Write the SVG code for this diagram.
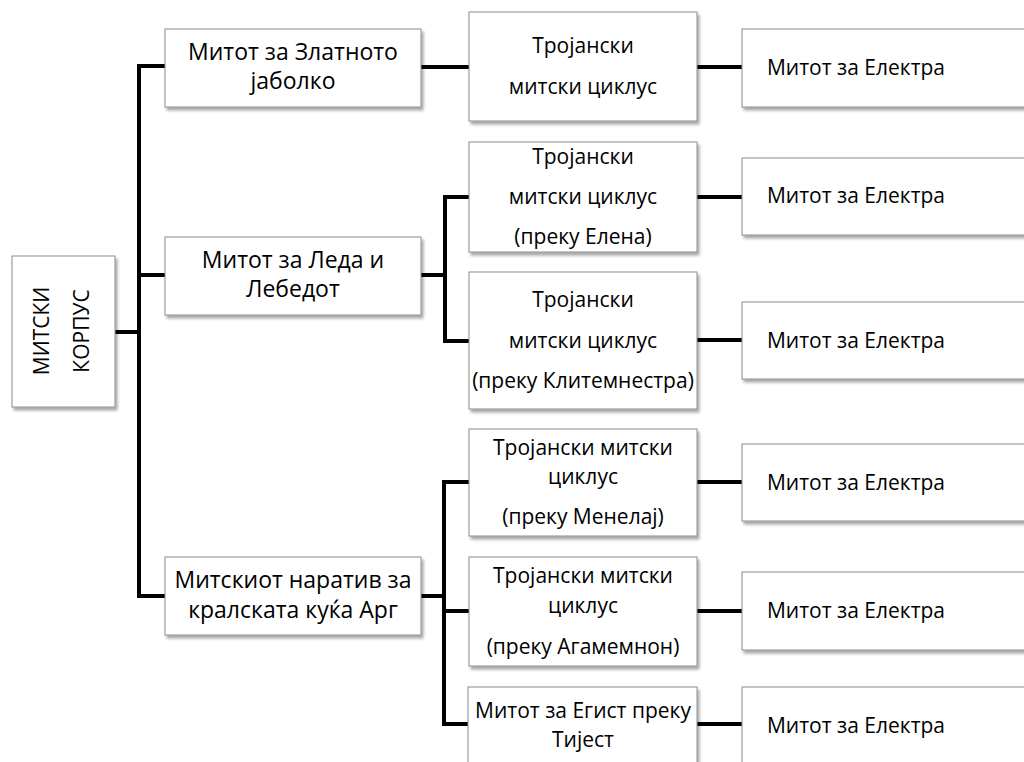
<svg xmlns="http://www.w3.org/2000/svg" width="1024" height="762" viewBox="0 0 1024 762">
<defs>
<filter id="sh" x="-10%" y="-10%" width="130%" height="140%">
<feDropShadow dx="2" dy="3" stdDeviation="1.5" flood-color="#000" flood-opacity="0.35"/>
</filter>
</defs>
<style>
.box{fill:#fff;stroke:#8c8c8c;stroke-width:1;filter:url(#sh)}
.t{font-family:"Open Sans","Noto Sans","Liberation Sans",sans-serif;font-size:21px;fill:#000;text-anchor:middle}
.l{font-size:23px}
.c{fill:none;stroke:#000;stroke-width:4;stroke-linejoin:miter;stroke-linecap:butt}
</style>
<rect width="1024" height="762" fill="#fff"/>
<g id="connectors">
<path class="c" d="M115,332 H139"/>
<path class="c" d="M165,66 H139 V596 H165"/>
<path class="c" d="M139,275 H165"/>
<path class="c" d="M421,67 H469"/>
<path class="c" d="M697,67 H742"/>
<path class="c" d="M421,275 H445"/>
<path class="c" d="M469,197 H445 V341 H469"/>
<path class="c" d="M697,197 H742"/>
<path class="c" d="M697,340 H742"/>
<path class="c" d="M421,596 H444"/>
<path class="c" d="M469,482 H444 V724 H469"/>
<path class="c" d="M444,611 H469"/>
<path class="c" d="M697,482 H742"/>
<path class="c" d="M697,611 H742"/>
<path class="c" d="M697,724 H742"/>
</g>
<g id="root">
<rect class="box" x="12" y="256" width="103" height="151"/>
<text class="t" transform="translate(49,331) rotate(-90)">МИТСКИ</text>
<text class="t" transform="translate(89,331) rotate(-90)">КОРПУС</text>
</g>
<g id="n-zlatno">
<rect class="box" x="165" y="29" width="256" height="78"/>
<text class="t l" x="293" y="60">Митот за Златното</text>
<text class="t l" x="293" y="89">јаболко</text>
</g>
<g id="n-leda">
<rect class="box" x="165" y="237" width="256" height="78"/>
<text class="t l" x="293" y="268">Митот за Леда и</text>
<text class="t l" x="293" y="297">Лебедот</text>
</g>
<g id="n-arg">
<rect class="box" x="165" y="557" width="256" height="78"/>
<text class="t l" x="293" y="588">Митскиот наратив за</text>
<text class="t l" x="293" y="618">кралската куќа Арг</text>
</g>
<g id="n-troj1">
<rect class="box" x="469" y="12" width="228" height="109"/>
<text class="t" x="583" y="53">Тројански</text>
<text class="t" x="583" y="94">митски циклус</text>
</g>
<g id="n-troj-elena">
<rect class="box" x="469" y="142" width="228" height="110"/>
<text class="t" x="583" y="164">Тројански</text>
<text class="t" x="583" y="204">митски циклус</text>
<text class="t" x="583" y="244">(преку Елена)</text>
</g>
<g id="n-troj-klit">
<rect class="box" x="469" y="272" width="228" height="137"/>
<text class="t" x="583" y="307">Тројански</text>
<text class="t" x="583" y="348">митски циклус</text>
<text class="t" x="583" y="388">(преку Клитемнестра)</text>
</g>
<g id="n-troj-menelaj">
<rect class="box" x="469" y="429" width="228" height="107"/>
<text class="t" x="583" y="455">Тројански митски</text>
<text class="t" x="583" y="484">циклус</text>
<text class="t" x="583" y="524">(преку Менелај)</text>
</g>
<g id="n-troj-agamemnon">
<rect class="box" x="469" y="557" width="228" height="109"/>
<text class="t" x="583" y="583">Тројански митски</text>
<text class="t" x="583" y="613">циклус</text>
<text class="t" x="583" y="654">(преку Агамемнон)</text>
</g>
<g id="n-egist">
<rect class="box" x="468" y="687" width="229" height="90"/>
<text class="t" x="583" y="718">Митот за Егист преку</text>
<text class="t" x="583" y="747">Тијест</text>
</g>
<g id="n-elektra1">
<rect class="box" x="742" y="29" width="300" height="78"/>
<text class="t" x="856" y="75">Митот за Електра</text>
</g>
<g id="n-elektra2">
<rect class="box" x="742" y="158" width="300" height="77"/>
<text class="t" x="856" y="203">Митот за Електра</text>
</g>
<g id="n-elektra3">
<rect class="box" x="742" y="302" width="300" height="77"/>
<text class="t" x="856" y="348">Митот за Електра</text>
</g>
<g id="n-elektra4">
<rect class="box" x="742" y="444" width="300" height="77"/>
<text class="t" x="856" y="490">Митот за Електра</text>
</g>
<g id="n-elektra5">
<rect class="box" x="742" y="572" width="300" height="78"/>
<text class="t" x="856" y="618">Митот за Електра</text>
</g>
<g id="n-elektra6">
<rect class="box" x="742" y="687" width="300" height="90"/>
<text class="t" x="856" y="733">Митот за Електра</text>
</g>
</svg>
